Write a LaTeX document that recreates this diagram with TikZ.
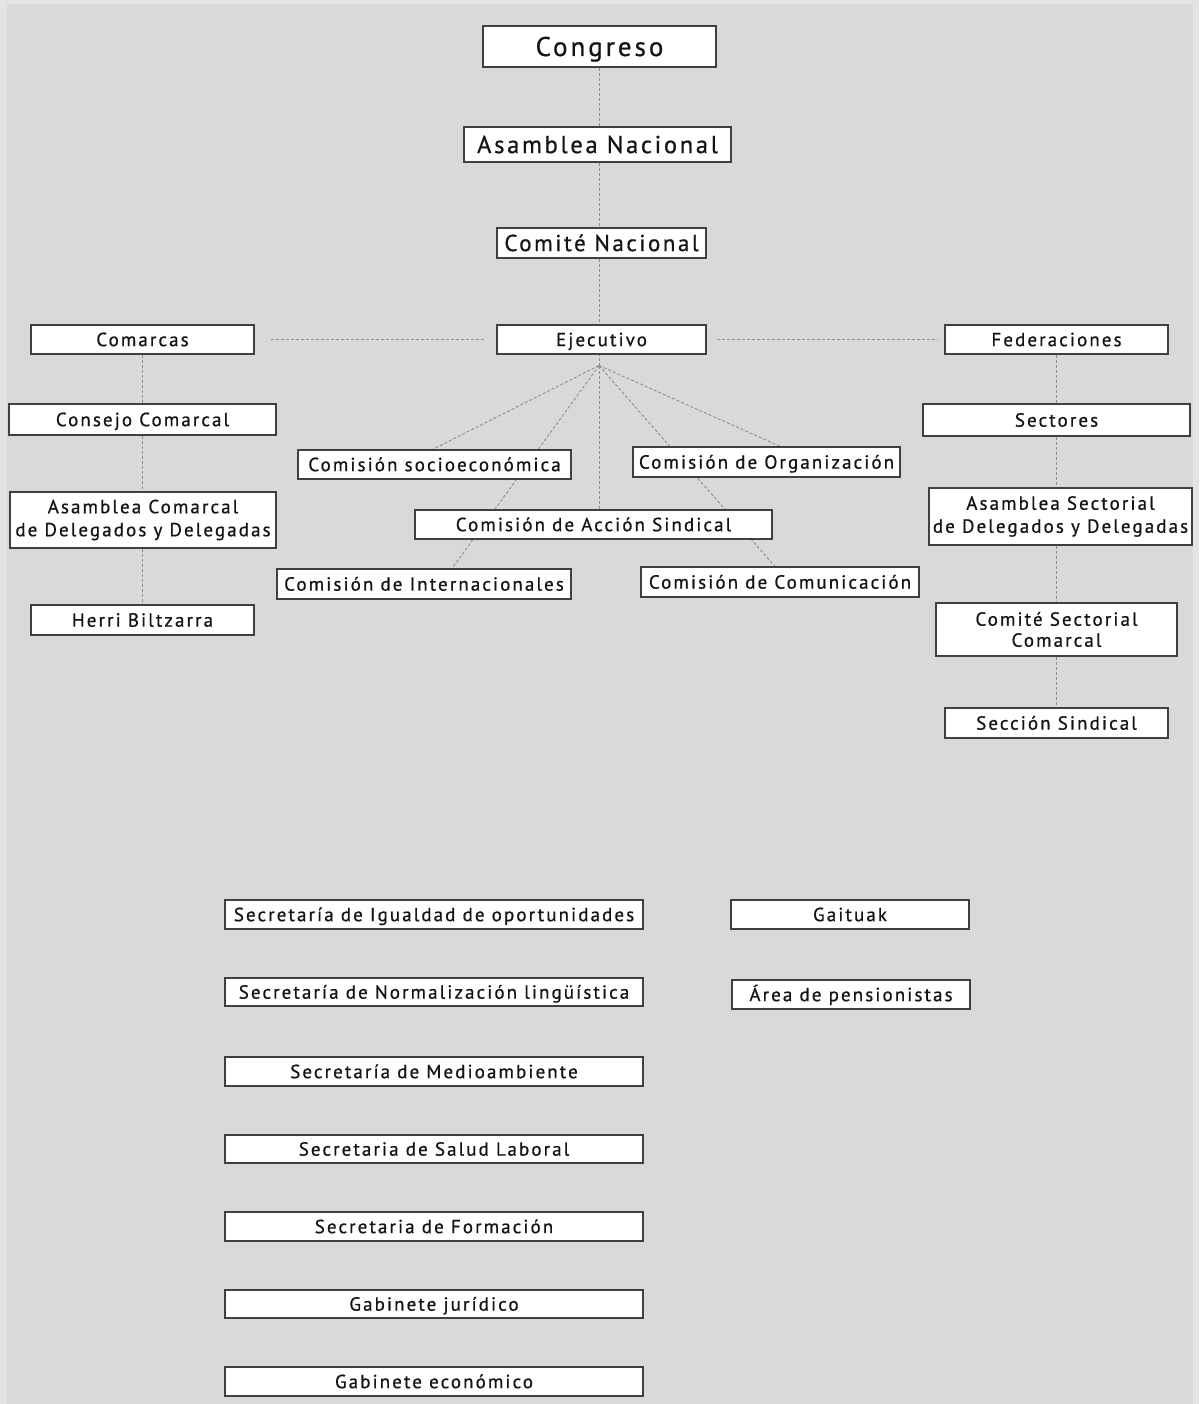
\documentclass[tikz,border=0pt]{standalone}
\usepackage{fontspec}
\setmainfont{PT Sans}[LetterSpace=11,FakeBold=0.7]
\usetikzlibrary{calc,backgrounds}
\definecolor{bgc}{HTML}{D9D9D9}
\definecolor{bgedge}{HTML}{E3E3E5}
\definecolor{lnc}{HTML}{8E8E8E}
\definecolor{txt}{HTML}{141414}
\begin{document}
\begin{tikzpicture}[x=1pt,y=-1pt,
  box/.style={draw=black!75,fill=white,line width=1.1pt,inner sep=0pt,text=txt},
  sm/.style={box,font=\fontsize{19}{23}\selectfont,text height=13.3pt,text depth=0pt},
  ml/.style={box,align=center,font=\fontsize{19}{23}\selectfont},
  conn/.style={draw=lnc,line width=0.9pt,dash pattern=on 3pt off 2pt}]
\useasboundingbox (0,0) rectangle (1199,1404);
% top level
\node[box,minimum width=233,minimum height=41,font=\fontsize{27}{30}\selectfont,text height=19pt,text depth=0pt] (congreso) at (599.5,46.5) {Congreso};
\node[box,minimum width=267,minimum height=35,font=\fontsize{24.5}{28}\selectfont,text height=17.2pt,text depth=0pt] (asnac) at (597.5,144.5) {Asamblea Nacional};
\node[box,minimum width=209,minimum height=30,font=\fontsize{23}{26}\selectfont,text height=16.1pt,text depth=0pt] (comnac) at (601.5,243) {Comité Nacional};
% row
\node[sm,minimum width=223,minimum height=29] (comarcas) at (142.5,339.5) {Comarcas};
\node[sm,minimum width=209,minimum height=29] (ejec) at (601.5,339.5) {Ejecutivo};
\node[sm,minimum width=223,minimum height=29] (feder) at (1056.5,339.5) {Federaciones};
% left chain
\node[sm,minimum width=267,minimum height=31] (consejo) at (142.5,419.5) {Consejo Comarcal};
\node[ml,minimum width=266,minimum height=56] (ascom) at (143,520) {Asamblea Comarcal\\de Delegados y Delegadas};
\node[sm,minimum width=223,minimum height=30] (herri) at (142.5,620) {Herri Biltzarra};
% commissions
\node[sm,minimum width=273,minimum height=29] (socio) at (434.5,464.5) {Comisión socioeconómica};
\node[sm,minimum width=267,minimum height=30] (organ) at (766.5,462) {Comisión de Organización};
\node[sm,minimum width=357,minimum height=29] (accion) at (593.5,524.5) {Comisión de Acción Sindical};
\node[sm,minimum width=294,minimum height=30] (inter) at (424,584) {Comisión de Internacionales};
\node[sm,minimum width=278,minimum height=30] (comun) at (780,582) {Comisión de Comunicación};
% right chain
\node[sm,minimum width=267,minimum height=32] (sect) at (1056.5,420) {Sectores};
\node[ml,minimum width=263,minimum height=57] (assec) at (1060.5,516.5) {Asamblea Sectorial\\de Delegados y Delegadas};
\node[ml,minimum width=241,minimum height=53,font=\fontsize{19}{21}\selectfont] (comsec) at (1056.5,629.5) {Comité Sectorial\\Comarcal};
\node[sm,minimum width=223,minimum height=30] (seccion) at (1056.5,723) {Sección Sindical};
% secretariats
\node[sm,minimum width=418,minimum height=29] (s1) at (434,914.5) {Secretaría de Igualdad de oportunidades};
\node[sm,minimum width=418,minimum height=28] (s2) at (434,992) {Secretaría de Normalización lingüística};
\node[sm,minimum width=418,minimum height=29] (s3) at (434,1071.5) {Secretaría de Medioambiente};
\node[sm,minimum width=418,minimum height=28] (s4) at (434,1149) {Secretaria de Salud Laboral};
\node[sm,minimum width=418,minimum height=29] (s5) at (434,1226.5) {Secretaria de Formación};
\node[sm,minimum width=418,minimum height=28] (s6) at (434,1304) {Gabinete jurídico};
\node[sm,minimum width=418,minimum height=29] (s7) at (434,1381.5) {Gabinete económico};
\node[sm,minimum width=238,minimum height=29] (gaituak) at (850,914.5) {Gaituak};
\node[sm,minimum width=238,minimum height=29] (pens) at (851,994.5) {Área de pensionistas};
\coordinate (apex) at ($(ejec.south)+(-2.5,11)$);
\begin{pgfonlayer}{background}
  \fill[bgedge] (0,0) rectangle (1199,1404);
  \fill[bgc] (7,4) rectangle (1193,1404);
  % central spine
  \draw[conn] (congreso.south -| 599,0) -- (asnac.north -| 599,0);
  \draw[conn] (asnac.south -| 599,0) -- (comnac.north -| 599,0);
  \draw[conn] (comnac.south -| 599,0) -- (ejec.north -| 599,0);
  % horizontal
  \draw[conn] ([xshift=16]comarcas.east) -- ([xshift=-12]ejec.west);
  \draw[conn] ([xshift=10]ejec.east) -- ([xshift=-6]feder.west);
  % left chain
  \draw[conn] (comarcas.south) -- (consejo.north -| comarcas.south);
  \draw[conn] (consejo.south) -- (ascom.north -| consejo.south);
  \draw[conn] (ascom.south -| herri.north) -- (herri.north);
  % right chain
  \draw[conn] (feder.south) -- (sect.north -| feder.south);
  \draw[conn] (sect.south) -- (assec.north -| sect.south);
  \draw[conn] (assec.south -| comsec.north) -- (comsec.north);
  \draw[conn] (comsec.south) -- (seccion.north);
  % fan from Ejecutivo
  \draw[conn] (apex) -- (ejec.south -| apex);
  \draw[conn] (apex) -- ($(socio.north)+(-2,0)$);
  \draw[conn] (apex) -- ($(inter.north)+(28,0)$);
  \draw[conn] (apex) -- (accion.north -| apex);
  \draw[conn] (apex) -- ($(organ.north)+(14,0)$);
  \draw[conn] (apex) -- ($(comun.north)+(-5,0)$);
\end{pgfonlayer}
\end{tikzpicture}
\end{document}
